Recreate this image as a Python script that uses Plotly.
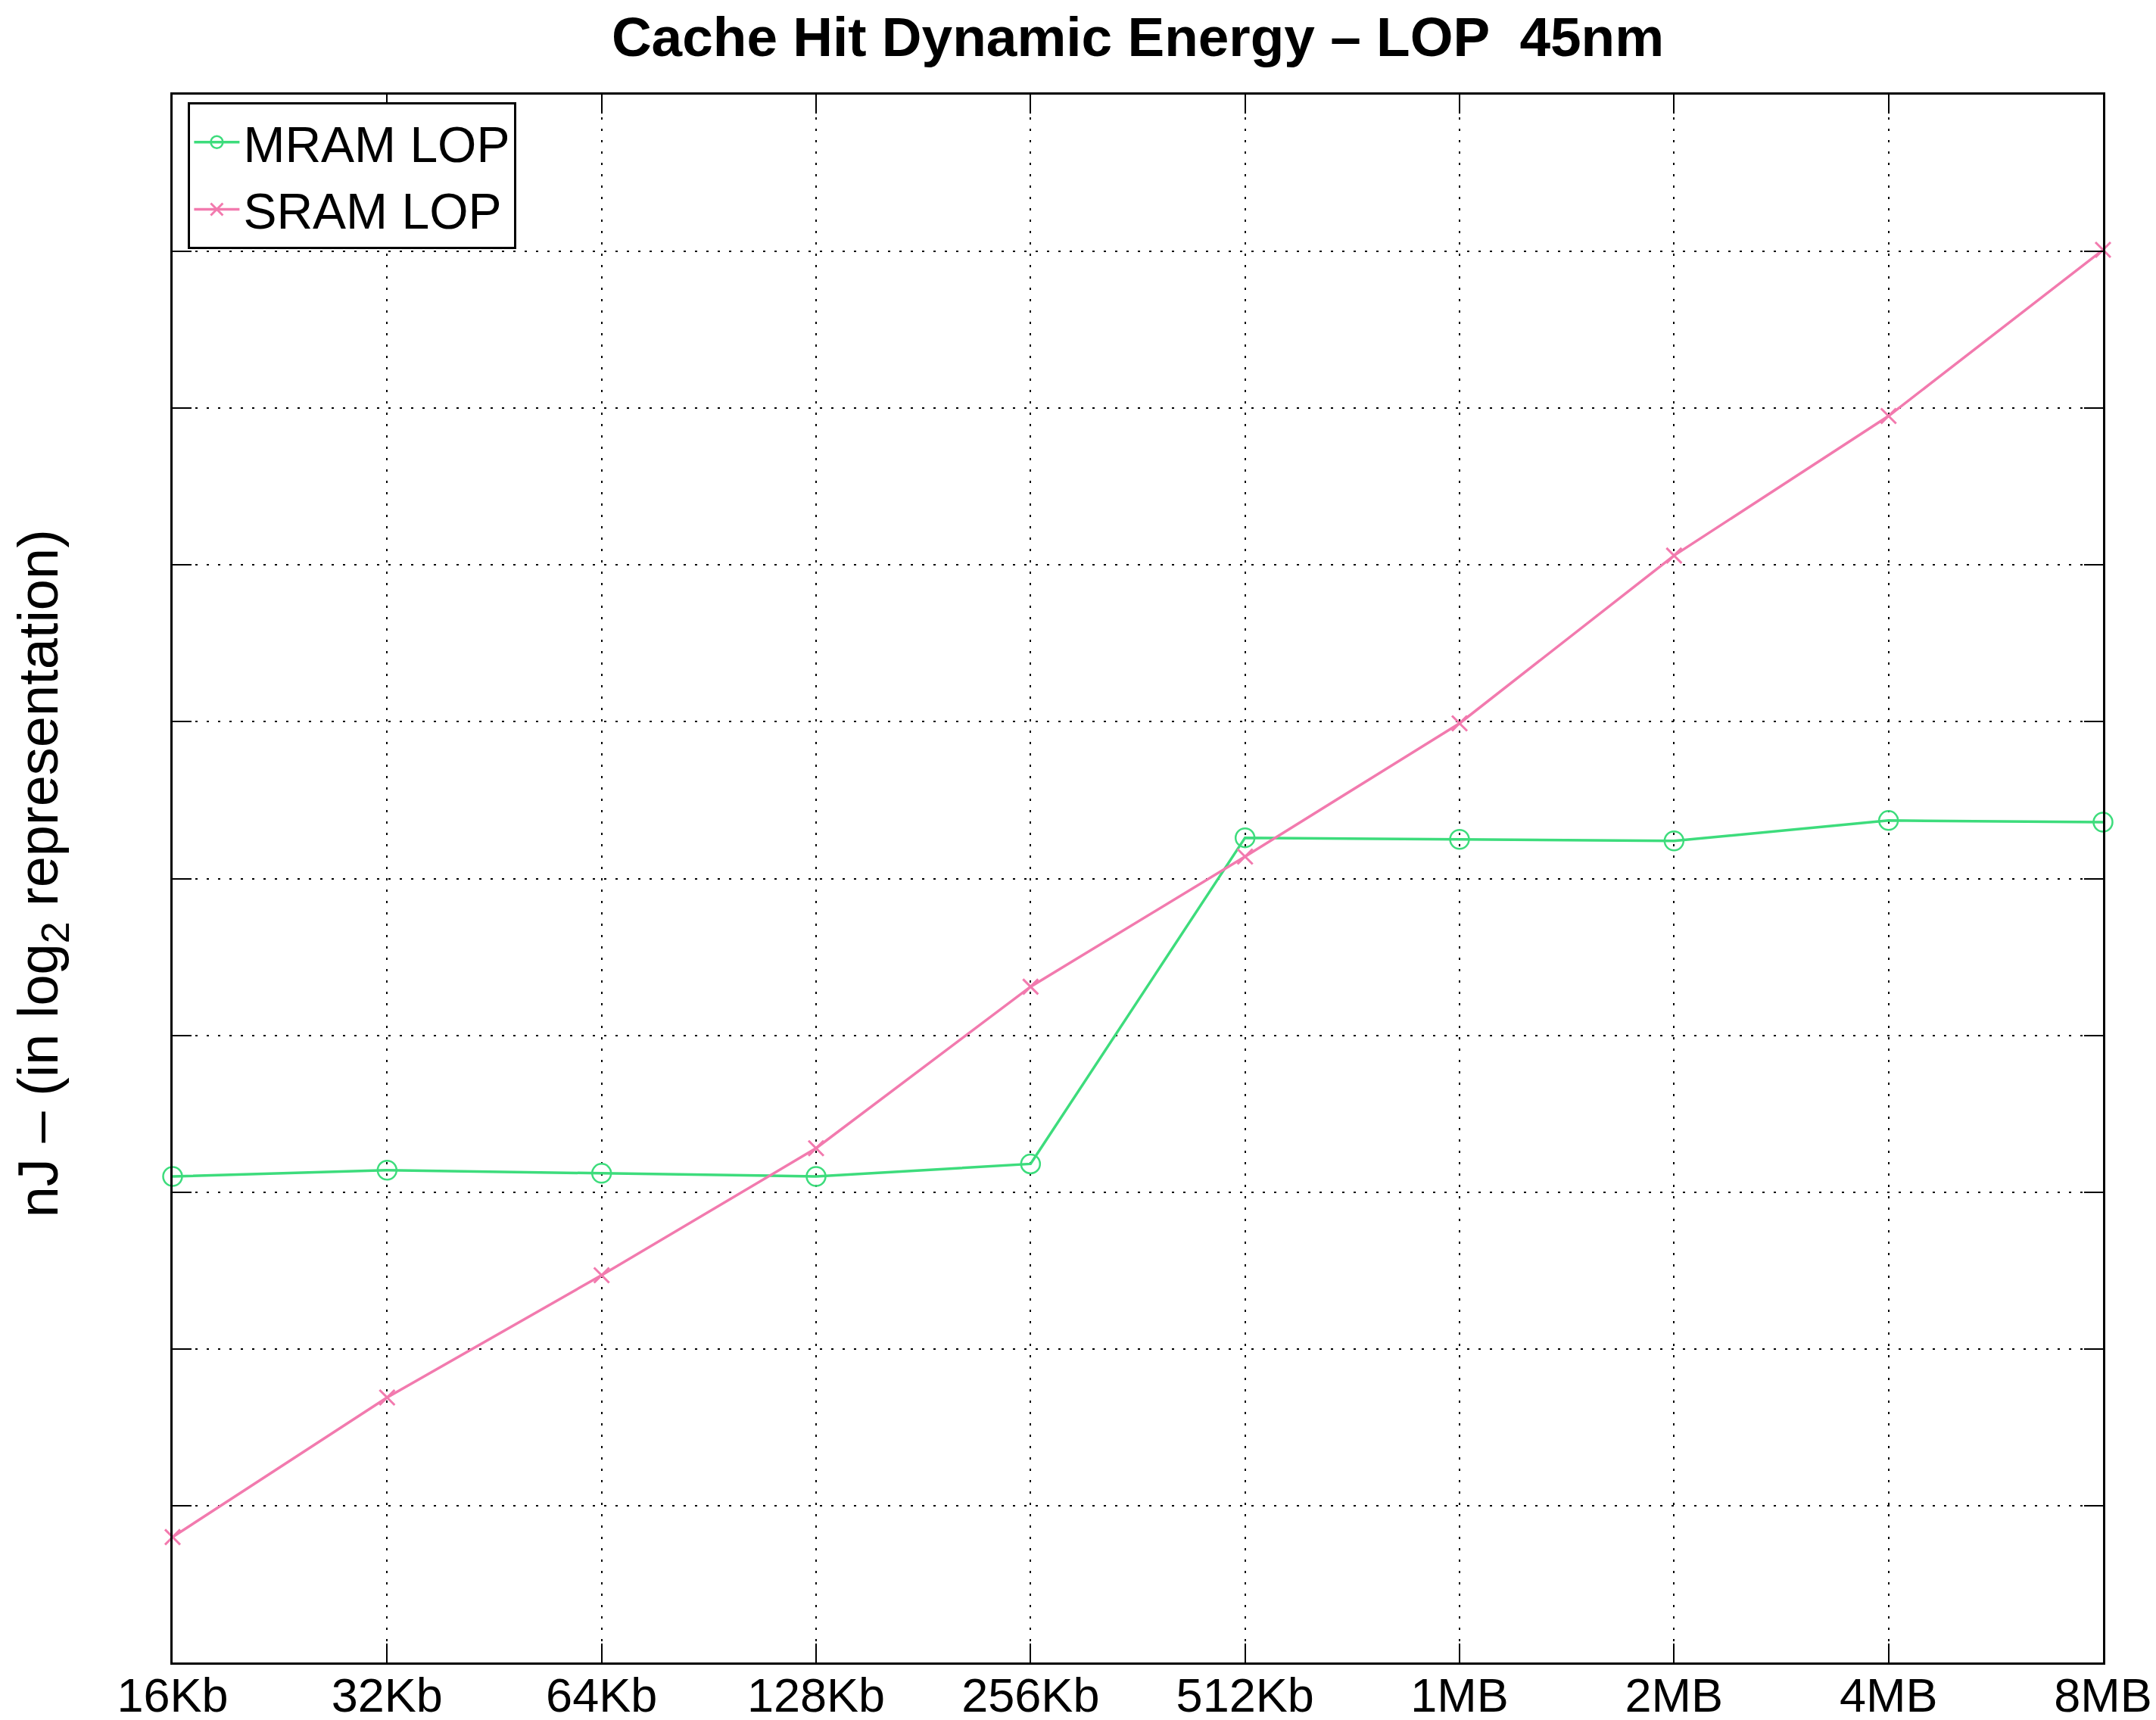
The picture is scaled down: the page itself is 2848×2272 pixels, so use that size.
import plotly.graph_objects as go

sizes = ["16Kb", "32Kb", "64Kb", "128Kb", "256Kb", "512Kb", "1MB", "2MB", "4MB", "8MB"]
mram_lop = [3.10, 3.14, 3.12, 3.10, 3.18, 5.26, 5.25, 5.24, 5.37, 5.36]
sram_lop = [0.80, 1.69, 2.47, 3.28, 4.31, 5.14, 5.99, 7.06, 7.95, 9.01]
y_ticks = [1, 2, 3, 4, 5, 6, 7, 8, 9]

FONT = "Liberation Sans, Arial, Helvetica, sans-serif"
GREEN = "#3ddc7c"
PINK = "#f27aae"

L, R, T, B = 220, 78, 117, 84
W, H = 2848, 2272
plot_w = W - L - R

fig = go.Figure()
fig.add_trace(go.Scatter(
    x=sizes, y=mram_lop, name="MRAM LOP", mode="lines+markers",
    line=dict(color=GREEN, width=3.5),
    marker=dict(symbol="circle-open", size=25, color=GREEN, line=dict(width=2.5, color=GREEN)),
    cliponaxis=False,
))
fig.add_trace(go.Scatter(
    x=sizes, y=sram_lop, name="SRAM LOP", mode="lines+markers",
    line=dict(color=PINK, width=3.5),
    marker=dict(symbol="x-thin-open", size=20, color=PINK, line=dict(width=3, color=PINK)),
    cliponaxis=False,
))

fig.update_layout(
    width=W, height=H,
    margin=dict(l=L, r=R, t=T, b=B, autoexpand=False),
    paper_bgcolor="white", plot_bgcolor="white",
    font=dict(family=FONT, size=64, color="black"),
    title=dict(text="<b>Cache Hit Dynamic Energy \u2013 LOP  45nm</b>",
               x=0.5, xref="paper", xanchor="center",
               y=1 - 40 / H, yanchor="middle",
               font=dict(family=FONT, size=73, color="black")),
    showlegend=True,
    legend=dict(x=0.008, y=0.995, xanchor="left", yanchor="top",
                bgcolor="white", bordercolor="black", borderwidth=3,
                font=dict(family=FONT, size=66, color="black"),
                itemwidth=60, tracegroupgap=0),
    xaxis=dict(
        type="category", range=[0, len(sizes) - 1], automargin=False,
        showline=True, linecolor="black", linewidth=3, mirror="ticks",
        ticks="inside", ticklen=25, tickwidth=2, tickcolor="black",
        showgrid=True, gridcolor="black", gridwidth=2, griddash="3px,12px",
        tickfont=dict(family=FONT, size=63, color="black"),
        ticklabelstandoff=-14,
        zeroline=False,
    ),
    yaxis=dict(
        range=[0, 10], tickvals=y_ticks, showticklabels=False, automargin=False,
        showline=True, linecolor="black", linewidth=3, mirror="ticks",
        ticks="inside", ticklen=25, tickwidth=2, tickcolor="black",
        showgrid=True, gridcolor="black", gridwidth=2, griddash="3px,12px",
        zeroline=False,
    ),
    annotations=[dict(
        text="nJ \u2013 (in log<sub>2</sub> representation)",
        xref="paper", yref="paper", x=-(L - 48) / plot_w, y=0.503,
        xanchor="center", yanchor="middle", textangle=-90, showarrow=False,
        font=dict(family=FONT, size=74, color="black"),
    )],
)

fig.write_html("out.html")
